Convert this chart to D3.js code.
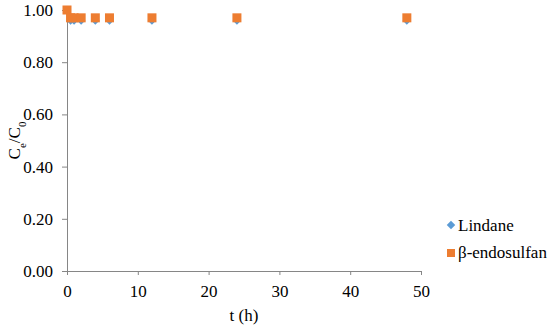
<!DOCTYPE html>
<html>
<head>
<meta charset="utf-8">
<script src="https://cdn.jsdelivr.net/npm/d3@7"></script>
<style>
  body { margin: 0; background: #fff; }
</style>
</head>
<body>
<div id="chart"></div>
<script>
// data
const times = [0, 0.5, 1, 2, 4, 6, 12, 24, 48];
const lindane = [1.00, 0.96, 0.96, 0.96, 0.96, 0.96, 0.96, 0.96, 0.96];
const endosulfan = [1.00, 0.97, 0.97, 0.97, 0.97, 0.97, 0.97, 0.97, 0.97];
const xTicks = [0, 10, 20, 30, 40, 50];
const yTicks = [0, 0.2, 0.4, 0.6, 0.8, 1.0];

const width = 550, height = 328;
const margin = { top: 10, right: 129, bottom: 57, left: 67 };
const serif = '"Liberation Serif"';
const fs = 17;

const svg = d3.select('#chart')
    .append('svg')
    .attr('width', width)
    .attr('height', height)
    .style('font-family', serif);

const x = d3.scaleLinear()
    .domain([0, 50])
    .range([margin.left, width - margin.right]);

const y = d3.scaleLinear()
    .domain([0, 1])
    .range([height - margin.bottom, margin.top]);

const axisColor = '#868686';

// оси
const xAxis = svg.append('g')
    .attr('transform', `translate(0,${height - margin.bottom})`)
    .call(d3.axisBottom(x).tickValues(xTicks).tickSize(4).tickSizeOuter(0).tickPadding(10));

const yAxis = svg.append('g')
    .attr('transform', `translate(${margin.left},0)`)
    .call(d3.axisLeft(y).tickValues(yTicks).tickFormat(d3.format('.2f')).tickSize(5).tickSizeOuter(0).tickPadding(9));

[xAxis, yAxis].forEach(g => {
    g.attr('font-family', null).attr('font-size', fs);
    g.select('.domain').attr('stroke', axisColor);
    g.selectAll('.tick line').attr('stroke', axisColor);
    g.selectAll('text').attr('fill', '#000');
});

// подписи осей
svg.append('text')
    .attr('x', x(25))
    .attr('y', 321)
    .attr('text-anchor', 'middle')
    .attr('font-size', fs)
    .text('t (h)');

const yLabel = svg.append('text')
    .attr('transform', `translate(20,${y(0.5)}) rotate(-90)`)
    .attr('text-anchor', 'middle')
    .attr('font-size', fs);
yLabel.append('tspan').text('C');
yLabel.append('tspan').attr('baseline-shift', 'sub').attr('font-size', 11).text('e');
yLabel.append('tspan').text('/C');
yLabel.append('tspan').attr('baseline-shift', 'sub').attr('font-size', 11).text('0');

const blue = '#5B9BD5';
const orange = '#ED7D31';
const diamond = d3.symbol(d3.symbolSquare, 36);

// Lindane — ромбы
svg.selectAll('.lindane')
    .data(times.map((t, i) => ({ t, v: lindane[i] })))
    .join('path')
    .attr('class', 'lindane')
    .attr('d', diamond)
    .attr('transform', d => `translate(${x(d.t)},${y(d.v)}) rotate(45)`)
    .attr('fill', blue);

// β-endosulfan — квадраты
svg.selectAll('.endo')
    .data(times.map((t, i) => ({ t, v: endosulfan[i] })))
    .join('rect')
    .attr('class', 'endo')
    .attr('x', d => x(d.t) - 4.5)
    .attr('y', d => y(d.v) - 4.5)
    .attr('width', 9)
    .attr('height', 9)
    .attr('fill', orange);

// легенда
const legend = svg.append('g').attr('transform', 'translate(451,225)');
legend.append('path')
    .attr('d', diamond)
    .attr('transform', 'rotate(45)')
    .attr('fill', blue);
legend.append('text')
    .attr('x', 7).attr('y', 6)
    .attr('font-size', fs)
    .text('Lindane');
legend.append('rect')
    .attr('x', -4).attr('y', 24)
    .attr('width', 8).attr('height', 8)
    .attr('fill', orange);
legend.append('text')
    .attr('x', 7).attr('y', 33)
    .attr('font-size', fs)
    .text('β-endosulfan');
</script>
</body>
</html>
